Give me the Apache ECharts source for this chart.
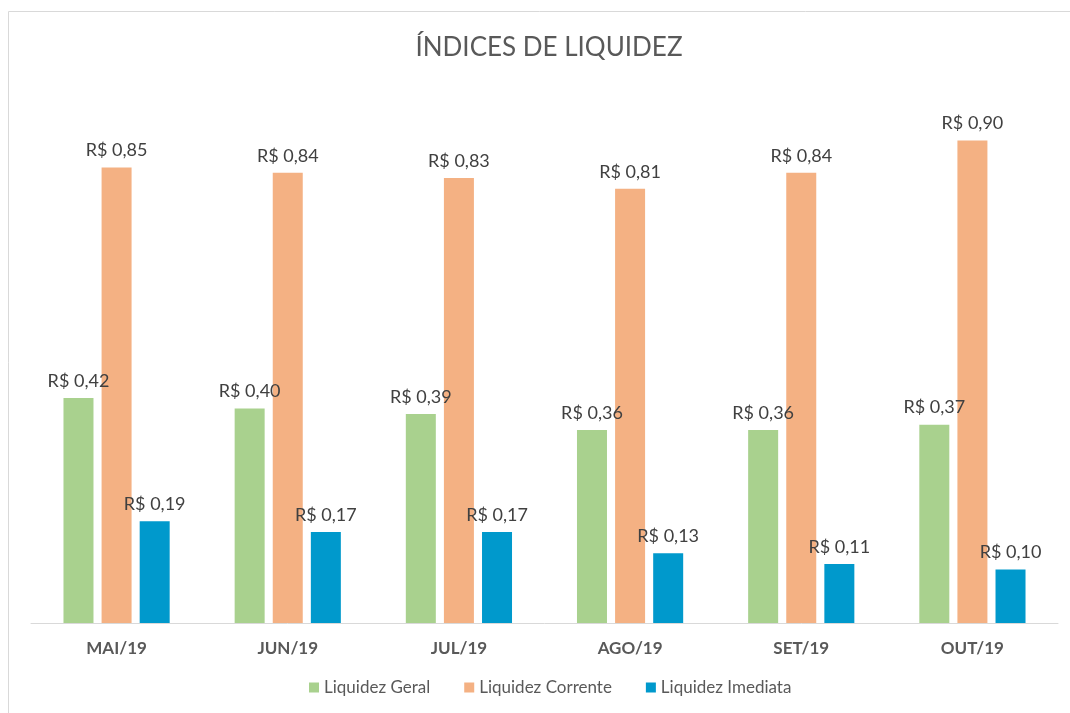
<!DOCTYPE html>
<html><head><meta charset="utf-8">
<script src="https://cdn.jsdelivr.net/npm/echarts@6/dist/echarts.min.js"></script>
<style>html,body{margin:0;padding:0;background:#fff}#c{width:1070px;height:713px}</style>
</head><body><div id="c"></div>
<script>
const categories = ['MAI/19','JUN/19','JUL/19','AGO/19','SET/19','OUT/19'];
const liquidezGeral = [0.42, 0.40, 0.39, 0.36, 0.36, 0.37];
const liquidezCorrente = [0.85, 0.84, 0.83, 0.81, 0.84, 0.90];
const liquidezImediata = [0.19, 0.17, 0.17, 0.13, 0.11, 0.10];
const seriesNames = ['Liquidez Geral','Liquidez Corrente','Liquidez Imediata'];
const colors = ['#a9d18e','#f4b183','#0099cc'];

const fontFam = 'Lato, "Open Sans", sans-serif';
const fmt = p => 'R$ ' + p.value.toFixed(2).replace('.', ',');
function mk(name, data, color){
  return {
    name, type:'bar', data, barWidth:30, barGap:'27%',
    itemStyle:{color},
    label:{show:true, position:'top', distance:8, formatter:fmt, color:'#404040', fontSize:18, fontFamily:fontFam}
  };
}
const chart = echarts.init(document.getElementById('c'));
chart.setOption({
  animation:false,
  title:{text:'ÍNDICES DE LIQUIDEZ', left:544, textAlign:'center', top:30, textStyle:{color:'#595959', fontSize:26, fontWeight:'normal', fontFamily:fontFam}},
  legend:{bottom:12, left:304, itemWidth:10, itemHeight:10, itemGap:34, icon:'rect',
    textStyle:{color:'#595959', fontSize:17, fontFamily:fontFam}, data:seriesNames},
  grid:{left:31, right:12, top:87, bottom:90},
  xAxis:{type:'category', data:categories,
    axisLine:{lineStyle:{color:'#d9d9d9', width:1}}, axisTick:{show:false},
    axisLabel:{color:'#595959', fontWeight:'bold', fontSize:17, margin:17, fontFamily:fontFam}},
  yAxis:{type:'value', min:0, max:1, show:false, splitLine:{show:false}},
  graphic:[{type:'rect', shape:{x:8.5, y:11.5, width:1100, height:800}, style:{fill:null, stroke:'#d9d9d9', lineWidth:1}, silent:true}],
  series:[mk(seriesNames[0], liquidezGeral, colors[0]), mk(seriesNames[1], liquidezCorrente, colors[1]), mk(seriesNames[2], liquidezImediata, colors[2])]
});
</script></body></html>
